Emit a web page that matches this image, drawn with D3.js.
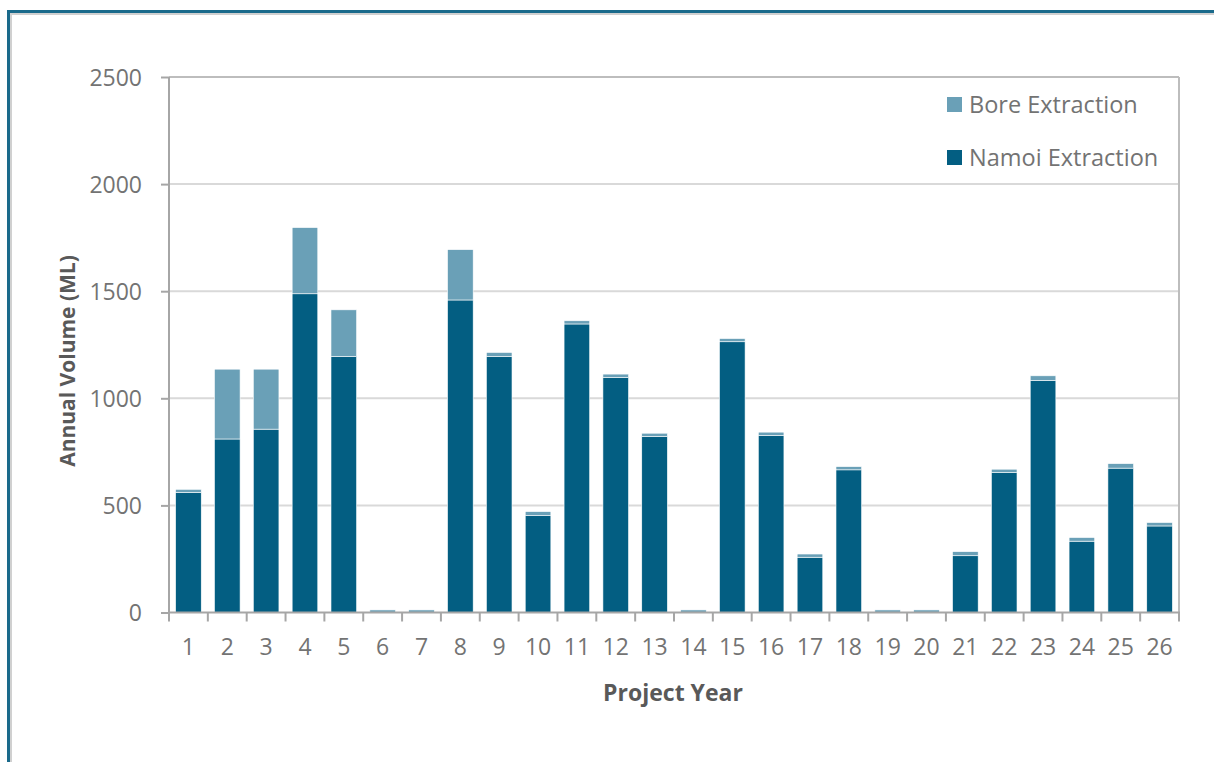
<!DOCTYPE html>
<html>
<head>
<meta charset="utf-8">
<script src="https://cdnjs.cloudflare.com/ajax/libs/d3/7.8.5/d3.min.js"></script>
<style>
  body { margin: 0; background: #fff; }
  svg { display: block; font-family: "Open Sans", "Noto Sans", sans-serif; }
</style>
</head>
<body>
<svg id="chart" width="1214" height="762"></svg>
<script>
// values
let years = ['1','2','3','4','5','6','7','8','9','10','11','12','13','14','15','16','17','18','19','20','21','22','23','24','25','26']
let namoi = [560, 810, 856, 1488, 1195, 0, 0, 1459, 1195, 452, 1347, 1097, 822, 0, 1264, 826, 258, 666, 0, 0, 265, 653, 1083, 333, 674, 404]
let bore = [15, 326, 280, 309, 218, 12, 12, 235, 19, 19, 15, 16, 15, 12, 15, 16, 15, 15, 12, 12, 19, 16, 22, 17, 21, 16]
let yTicks = [0, 500, 1000, 1500, 2000, 2500]
let seriesNames = ['Namoi Extraction', 'Bore Extraction']
let seriesColors = ['#035e82', '#6aa0b7']

let svg = d3.select('#chart')
let fontFam = '"Open Sans", "Noto Sans", sans-serif'

let plotLeft = 169, plotRight = 1179, plotTop = 77, plotBottom = 612.5

let x = d3.scaleBand()
    .domain(years)
    .range([plotLeft, plotRight])
    .paddingInner(0.34)
    .paddingOuter(0.17)

let y = d3.scaleLinear()
    .domain([0, 2500])
    .range([plotBottom, plotTop])

// outer frame (teal line on top and left)
svg.append('line').attr('x1', 10).attr('x2', 1214).attr('y1', 14).attr('y2', 14)
    .style('stroke', '#d0d0d0').style('stroke-width', 2)
svg.append('line').attr('x1', 11).attr('x2', 11).attr('y1', 12).attr('y2', 762)
    .style('stroke', '#d0d0d0').style('stroke-width', 2)
svg.append('line').attr('x1', 7).attr('x2', 1214).attr('y1', 11.5).attr('y2', 11.5)
    .style('stroke', '#1a6a8b').style('stroke-width', 3)
svg.append('line').attr('x1', 8.5).attr('x2', 8.5).attr('y1', 10).attr('y2', 762)
    .style('stroke', '#1a6a8b').style('stroke-width', 3)

// gridlines
svg.append('g')
    .selectAll('line')
    .data(yTicks.filter(d => d > 0 && d < 2500))
    .enter()
    .append('line')
    .attr('x1', plotLeft).attr('x2', plotRight)
    .attr('y1', d => y(d)).attr('y2', d => y(d))
    .style('stroke', '#d9d9d9')
    .style('stroke-width', 2)

// plot area border top + right
svg.append('line').attr('x1', plotLeft).attr('x2', plotRight).attr('y1', plotTop).attr('y2', plotTop)
    .style('stroke', '#bdbdbd').style('stroke-width', 2)
svg.append('line').attr('x1', plotRight).attr('x2', plotRight).attr('y1', plotTop).attr('y2', plotBottom)
    .style('stroke', '#bdbdbd').style('stroke-width', 2)

// stacked bars
let rows = years.map((yr, i) => ({year: yr, namoi: namoi[i], bore: bore[i]}))
let stack = d3.stack().keys(['namoi', 'bore'])
let layers = stack(rows)

svg.append('g')
    .selectAll('g')
    .data(layers)
    .enter()
    .append('g')
    .attr('fill', (d, i) => seriesColors[i])
    .selectAll('rect')
    .data(d => d)
    .enter()
    .append('rect')
    .attr('x', d => x(d.data.year))
    .attr('width', x.bandwidth())
    .attr('y', d => y(d[1]))
    .attr('height', d => y(d[0]) - y(d[1]))
    .style('stroke', '#ffffff')
    .style('stroke-width', 0.6)

// y axis
let yAxis = svg.append('g')
    .attr('transform', 'translate(' + plotLeft + ',0)')
    .call(d3.axisLeft(y).tickValues(yTicks).tickFormat(d3.format('d')).tickSize(8).tickPadding(19))
yAxis.select('.domain').attr('d', 'M0,' + plotTop + 'V' + (plotBottom + 9))
yAxis.selectAll('line').style('stroke', '#a6a6a6').style('stroke-width', 2)
yAxis.select('.domain').style('stroke', '#a6a6a6').style('stroke-width', 2)
yAxis.selectAll('text')
    .style('font-family', fontFam)
    .style('font-size', '23px')
    .style('fill', '#737373')
    .attr('dy', '0.36em')

// x axis labels
let xAxis = svg.append('g')
    .attr('transform', 'translate(0,' + plotBottom + ')')
    .call(d3.axisBottom(x).tickSize(0).tickPadding(26))
xAxis.select('.domain').remove()
xAxis.selectAll('text')
    .style('font-family', fontFam)
    .style('font-size', '23px')
    .style('fill', '#737373')

svg.append('line').attr('x1', plotLeft - 1).attr('x2', plotRight + 1).attr('y1', plotBottom).attr('y2', plotBottom)
    .style('stroke', '#a6a6a6').style('stroke-width', 2)

// separator ticks between categories
svg.append('g')
    .selectAll('line')
    .data(years.slice(1))
    .enter()
    .append('line')
    .attr('x1', d => x(d) - x.step() * x.paddingInner() / 2)
    .attr('x2', d => x(d) - x.step() * x.paddingInner() / 2)
    .attr('y1', plotBottom).attr('y2', plotBottom + 9)
    .style('stroke', '#a6a6a6')
    .style('stroke-width', 2)
svg.append('line').attr('x1', plotRight).attr('x2', plotRight).attr('y1', plotBottom).attr('y2', plotBottom + 9)
    .style('stroke', '#a6a6a6').style('stroke-width', 2)

// axis titles
svg.append('text')
    .text('Project Year')
    .attr('x', 673)
    .attr('y', 701)
    .style('text-anchor', 'middle')
    .style('font-size', '23px')
    .style('font-weight', 'bold')
    .style('fill', '#595959')

svg.append('text')
    .text('Annual Volume (ML)')
    .attr('transform', 'translate(75,' + 361 + ') rotate(-90)')
    .style('text-anchor', 'middle')
    .style('font-size', '21px')
    .style('font-weight', 'bold')
    .style('fill', '#595959')

// legend
let legendItems = [
    {name: seriesNames[1], color: seriesColors[1], y: 104.5},
    {name: seriesNames[0], color: seriesColors[0], y: 157.5}
]
let legend = svg.append('g')
    .selectAll('g')
    .data(legendItems)
    .enter()
    .append('g')
legend.append('rect')
    .attr('x', 947)
    .attr('y', d => d.y - 7.5)
    .attr('width', 15)
    .attr('height', 15)
    .attr('fill', d => d.color)
legend.append('text')
    .text(d => d.name)
    .attr('x', 969)
    .attr('y', d => d.y)
    .attr('dy', '0.35em')
    .style('font-size', '23.5px')
    .style('fill', '#737373')
</script>
</body>
</html>
